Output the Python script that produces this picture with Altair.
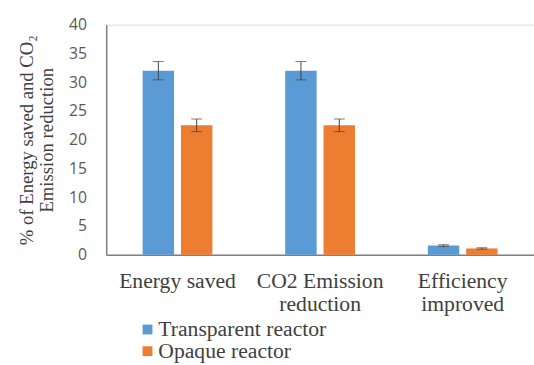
import altair as alt
import pandas as pd

categories = ["Energy saved", "CO2 Emission reduction", "Efficiency improved"]
series = ["Transparent reactor", "Opaque reactor"]
transparent_vals = [32.0, 32.0, 1.6]
opaque_vals = [22.5, 22.5, 1.1]
transparent_err = [1.6, 1.6, 0.15]
opaque_err = [1.1, 1.1, 0.12]

rows = []
for i, c in enumerate(categories):
    rows.append({"cat": c, "series": series[0], "val": transparent_vals[i],
                 "lo": transparent_vals[i] - transparent_err[i], "hi": transparent_vals[i] + transparent_err[i]})
    rows.append({"cat": c, "series": series[1], "val": opaque_vals[i],
                 "lo": opaque_vals[i] - opaque_err[i], "hi": opaque_vals[i] + opaque_err[i]})
df = pd.DataFrame(rows)

label_expr = ("datum.value == 'CO2 Emission reduction' ? ['CO2 Emission', 'reduction'] : "
              "datum.value == 'Efficiency improved' ? ['Efficiency', 'improved'] : datum.label")

x = alt.X("cat:N", sort=categories, title=None,
          scale=alt.Scale(paddingInner=0, paddingOuter=0),
          axis=alt.Axis(labelAngle=0, labelExpr=label_expr, labelFont="Liberation Serif",
                        labelFontSize=22, labelColor="#404040", labelPadding=16,
                        labelLineHeight=24, ticks=False, domainColor="#7f7f7f",
                        domainWidth=1.5, labelBaseline="top"))
xo = alt.XOffset("series:N", sort=series,
                 scale=alt.Scale(paddingInner=0.18, paddingOuter=0.95))
y_scale = alt.Scale(domain=[0, 40])
y_title = ["% of Energy saved and CO₂", "Emission reduction"]
y_axis = alt.Axis(values=list(range(0, 41, 5)), grid=False, ticks=False,
                  labelOverlap=False,
                  labelFont="Open Sans", labelFontSize=16, labelColor="#595959",
                  labelPadding=20, domainColor="#7f7f7f", domainWidth=1.5,
                  titleFont="Liberation Serif", titleFontSize=19,
                  titleColor="#404040", titleFontWeight="normal",
                  titlePadding=12, titleLineHeight=21)

bars = alt.Chart(df).mark_bar().encode(
    x=x, xOffset=xo,
    y=alt.Y("val:Q", scale=y_scale, title=y_title, axis=y_axis),
    color=alt.Color("series:N", sort=series,
                    scale=alt.Scale(domain=series, range=["#5b9bd5", "#ed7d31"]),
                    legend=alt.Legend(title=None, orient="none", legendX=31, legendY=299,
                                      direction="vertical", symbolType="square",
                                      symbolSize=100, labelFont="Liberation Serif",
                                      labelFontSize=22, labelColor="#404040", labelLimit=400,
                                      rowPadding=0, symbolStrokeWidth=0, labelOffset=0)),
)

rules = alt.Chart(df).mark_rule(color="#404040", strokeWidth=1).encode(
    x=x, xOffset=xo,
    y=alt.Y("lo:Q", scale=y_scale, title=y_title, axis=y_axis), y2="hi:Q")
caps_hi = alt.Chart(df).mark_tick(color="#404040", thickness=1, size=11, orient="horizontal").encode(
    x=x, xOffset=xo, y=alt.Y("hi:Q", scale=y_scale, title=y_title, axis=y_axis))
caps_lo = alt.Chart(df).mark_tick(color="#404040", thickness=1, size=11, orient="horizontal").encode(
    x=x, xOffset=xo, y=alt.Y("lo:Q", scale=y_scale, title=y_title, axis=y_axis))

chart = alt.layer(bars, rules, caps_hi, caps_lo).properties(
    width=435, height=234,
    autosize=alt.AutoSizeParams(type="none"),
    padding={"left": 108, "top": 22, "right": 0, "bottom": 109},
).configure_view(stroke=None).configure(background="white")

chart.save("out.html", embed_options={"renderer": "svg", "actions": False})
